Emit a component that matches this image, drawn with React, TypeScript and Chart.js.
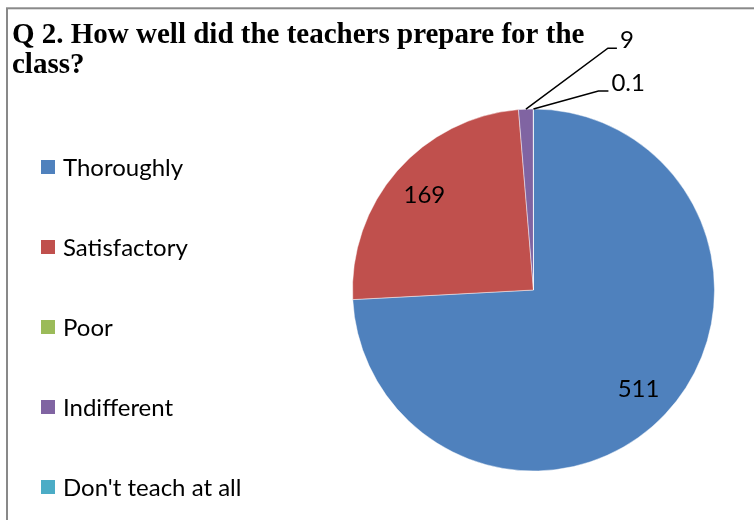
import React, { useEffect, useRef } from 'react';
import { Chart, registerables } from 'chart.js';

Chart.register(...registerables);

const categories = ['Thoroughly', 'Satisfactory', 'Poor', 'Indifferent', "Don't teach at all"];
const responses = [511, 169, 0, 9, 0.1];
const valueLabels = ['511', '169', '', '9', '0.1'];
const colors = ['#4F81BD', '#C0504D', '#9BBB59', '#8064A2', '#4BACC6'];
const titleLines = ['Q 2. How well did the teachers prepare for the', 'class?'];

const LABEL_FONT = '24px Lato';
// leader line offsets for small slices: [elbow dx, elbow dy, horizontal run]
const LEADERS: Record<number, [number, number, number]> = {
  3: [82, -61, 9],
  4: [65, -18, 10],
};

const decorPlugin = {
  id: 'decor',
  beforeDraw(chart: any) {
    const ctx = chart.ctx as CanvasRenderingContext2D;
    ctx.save();
    ctx.fillStyle = '#ffffff';
    ctx.fillRect(0, 0, chart.width, chart.height);
    ctx.strokeStyle = '#898989';
    ctx.lineWidth = 2;
    ctx.strokeRect(7, 8.3, chart.width + 20, chart.height + 20);
    ctx.fillStyle = '#000';
    ctx.font = 'bold 29px "Liberation Serif"';
    ctx.textBaseline = 'alphabetic';
    ctx.textAlign = 'left';
    titleLines.forEach((t, i) => ctx.fillText(t, 12, 43 + i * 29.5));
    ctx.font = LABEL_FONT;
    ctx.textBaseline = 'middle';
    categories.forEach((c, i) => {
      const cy = 167 + i * 80;
      ctx.fillStyle = colors[i];
      ctx.fillRect(41, cy - 7, 14, 14);
      ctx.fillStyle = '#000';
      ctx.fillText(c, 63, cy + 1);
    });
    ctx.restore();
  },
  afterDatasetsDraw(chart: any) {
    const ctx = chart.ctx as CanvasRenderingContext2D;
    const meta = chart.getDatasetMeta(0);
    const total = responses.reduce((a, b) => a + b, 0);
    ctx.save();
    ctx.font = LABEL_FONT;
    ctx.fillStyle = '#000';
    meta.data.forEach((arc: any, i: number) => {
      const text = valueLabels[i];
      if (!text) return;
      const { x, y, startAngle, endAngle, outerRadius } = arc.getProps(
        ['x', 'y', 'startAngle', 'endAngle', 'outerRadius'],
        true
      );
      const mid = (startAngle + endAngle) / 2;
      if (responses[i] / total >= 0.05) {
        const r = outerRadius * 0.8;
        ctx.textAlign = 'center';
        ctx.textBaseline = 'middle';
        ctx.fillText(text, x + Math.cos(mid) * r, y + Math.sin(mid) * r);
      } else {
        const lead = LEADERS[i];
        if (!lead) return;
        const ex = x + Math.cos(mid) * outerRadius;
        const ey = y + Math.sin(mid) * outerRadius;
        const bx = ex + lead[0];
        const by = ey + lead[1];
        const tx = bx + lead[2];
        ctx.strokeStyle = '#000';
        ctx.lineWidth = 1.5;
        ctx.beginPath();
        ctx.moveTo(ex, ey);
        ctx.lineTo(bx, by);
        ctx.lineTo(tx, by);
        ctx.stroke();
        ctx.textAlign = 'left';
        ctx.textBaseline = 'alphabetic';
        ctx.fillText(text, tx + 3, by);
      }
    });
    ctx.restore();
  },
};

export default function App() {
  const ref = useRef<HTMLCanvasElement | null>(null);
  useEffect(() => {
    document.body.style.margin = '0';
    if (!ref.current) return;
    const chart = new Chart(ref.current, {
      type: 'pie',
      data: {
        labels: categories,
        datasets: [
          {
            data: responses,
            backgroundColor: colors,
            borderColor: 'rgba(255,255,255,0.45)',
            borderWidth: 1,
          },
        ],
      },
      options: {
        responsive: false,
        animation: false,
        layout: { padding: { left: 352, right: 39, top: 108, bottom: 48 } },
        plugins: {
          legend: { display: false },
          title: { display: false },
          tooltip: { enabled: false },
        },
      },
      plugins: [decorPlugin],
    });
    return () => chart.destroy();
  }, []);
  return (
    <div style={{ width: 754, height: 520 }}>
      <canvas ref={ref} width={754} height={520} />
    </div>
  );
}
